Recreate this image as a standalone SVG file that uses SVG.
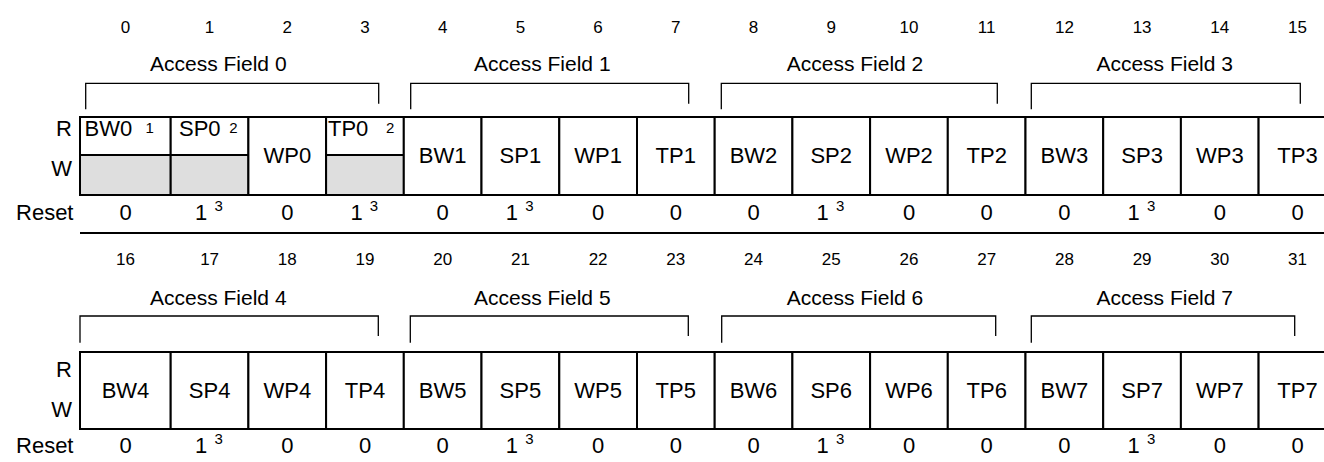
<svg xmlns="http://www.w3.org/2000/svg" width="1324" height="462" viewBox="0 0 1324 462">
<style>
text{font-family:"Liberation Sans",Arial,Helvetica,sans-serif;fill:#000}
.cell{fill:#fff;stroke:#000;stroke-width:2}
.gray{fill:#dedede;stroke:#000;stroke-width:2}
.ln{stroke:#000;stroke-width:2;fill:none}
.br{stroke:#000;stroke-width:1.3;fill:none}
.bit{font-size:17px;text-anchor:middle}
.af{font-size:21px;text-anchor:middle}
.lbl{font-size:22px;text-anchor:middle}
.lft{font-size:22px}
.rw{font-size:22px;text-anchor:end}
.sup{font-size:15px}
.val{font-size:22px;text-anchor:middle}
</style>
<rect width="1324" height="462" fill="#fff"/>

<!-- Row headers -->
<g id="hdr-top">
<text class="rw" x="72" y="136">R</text>
<text class="rw" x="72" y="176">W</text>
<text class="rw" x="73.5" y="220">Reset</text>
</g>
<g id="hdr-bottom">
<text class="rw" x="72" y="376.7">R</text>
<text class="rw" x="72" y="416.7">W</text>
<text class="rw" x="73.5" y="453">Reset</text>
</g>

<!-- Bit numbers -->
<g id="bits-top" class="bits">
<text class="bit" x="125.5" y="33">0</text>
<text class="bit" x="209.6" y="33">1</text>
<text class="bit" x="287.3" y="33">2</text>
<text class="bit" x="365.0" y="33">3</text>
<text class="bit" x="442.7" y="33">4</text>
<text class="bit" x="520.4" y="33">5</text>
<text class="bit" x="598.1" y="33">6</text>
<text class="bit" x="675.8" y="33">7</text>
<text class="bit" x="753.5" y="33">8</text>
<text class="bit" x="831.2" y="33">9</text>
<text class="bit" x="909.0" y="33">10</text>
<text class="bit" x="986.7" y="33">11</text>
<text class="bit" x="1064.4" y="33">12</text>
<text class="bit" x="1142.1" y="33">13</text>
<text class="bit" x="1219.8" y="33">14</text>
<text class="bit" x="1297.5" y="33">15</text>
</g>
<g id="bits-bottom" class="bits">
<text class="bit" x="125.5" y="265">16</text>
<text class="bit" x="209.6" y="265">17</text>
<text class="bit" x="287.3" y="265">18</text>
<text class="bit" x="365.0" y="265">19</text>
<text class="bit" x="442.7" y="265">20</text>
<text class="bit" x="520.4" y="265">21</text>
<text class="bit" x="598.1" y="265">22</text>
<text class="bit" x="675.8" y="265">23</text>
<text class="bit" x="753.5" y="265">24</text>
<text class="bit" x="831.2" y="265">25</text>
<text class="bit" x="909.0" y="265">26</text>
<text class="bit" x="986.7" y="265">27</text>
<text class="bit" x="1064.4" y="265">28</text>
<text class="bit" x="1142.1" y="265">29</text>
<text class="bit" x="1219.8" y="265">30</text>
<text class="bit" x="1297.5" y="265">31</text>
</g>

<!-- Access field labels -->
<g id="field-labels">
<text class="af" x="218.3" y="71">Access Field 0</text>
<text class="af" x="542.3" y="71">Access Field 1</text>
<text class="af" x="855" y="71">Access Field 2</text>
<text class="af" x="1164.7" y="71">Access Field 3</text>
<text class="af" x="218.3" y="305">Access Field 4</text>
<text class="af" x="542.3" y="305">Access Field 5</text>
<text class="af" x="855" y="305">Access Field 6</text>
<text class="af" x="1164.7" y="305">Access Field 7</text>
</g>

<!-- Brackets (connectors) -->
<g id="connectors">
<path class="br" d="M85.7,109.3 V83.3 H378.7 V103.7"/>
<path class="br" d="M410.7,109.3 V83.3 H688.7 V103.7"/>
<path class="br" d="M721.3,109.3 V83.3 H997.3 V103.7"/>
<path class="br" d="M1031.3,109.3 V83.3 H1300.3 V103.7"/>
<path class="br" d="M80,342.7 V316 H378.3 V336"/>
<path class="br" d="M410.3,342.7 V316 H688.3 V336"/>
<path class="br" d="M721.7,342.7 V316 H995.7 V336"/>
<path class="br" d="M1031.3,342.7 V316 H1294.7 V336"/>
</g>

<!-- Top register cells -->
<g id="bw0">
<rect class="cell" x="80" y="117" width="90.7" height="38"/>
<rect class="gray" x="80" y="155" width="90.7" height="40"/>
<text class="lft" x="84.5" y="136">BW0</text>
<text class="sup" x="145.5" y="132.5">1</text>
</g>
<g id="sp0">
<rect class="cell" x="170.7" y="117" width="77.7" height="38"/>
<rect class="gray" x="170.7" y="155" width="77.7" height="40"/>
<text class="lft" x="179" y="136">SP0</text>
<text class="sup" x="229.3" y="132.5">2</text>
</g>
<g id="wp0">
<rect class="cell" x="248.4" y="117" width="77.7" height="78"/>
<text class="lbl" x="287.3" y="163">WP0</text>
</g>
<g id="tp0">
<rect class="cell" x="326.1" y="117" width="77.7" height="38"/>
<rect class="gray" x="326.1" y="155" width="77.7" height="40"/>
<text class="lft" x="328" y="136">TP0</text>
<text class="sup" x="386" y="132.5">2</text>
</g>
<g id="bw1"><rect class="cell" x="403.8" y="117" width="77.7" height="78"/><text class="lbl" x="442.7" y="163">BW1</text></g>
<g id="sp1"><rect class="cell" x="481.5" y="117" width="77.7" height="78"/><text class="lbl" x="520.4" y="163">SP1</text></g>
<g id="wp1"><rect class="cell" x="559.3" y="117" width="77.7" height="78"/><text class="lbl" x="598.1" y="163">WP1</text></g>
<g id="tp1"><rect class="cell" x="637" y="117" width="77.7" height="78"/><text class="lbl" x="675.8" y="163">TP1</text></g>
<g id="bw2"><rect class="cell" x="714.7" y="117" width="77.7" height="78"/><text class="lbl" x="753.5" y="163">BW2</text></g>
<g id="sp2"><rect class="cell" x="792.4" y="117" width="77.7" height="78"/><text class="lbl" x="831.2" y="163">SP2</text></g>
<g id="wp2"><rect class="cell" x="870.1" y="117" width="77.7" height="78"/><text class="lbl" x="909" y="163">WP2</text></g>
<g id="tp2"><rect class="cell" x="947.8" y="117" width="77.7" height="78"/><text class="lbl" x="986.7" y="163">TP2</text></g>
<g id="bw3"><rect class="cell" x="1025.5" y="117" width="77.7" height="78"/><text class="lbl" x="1064.4" y="163">BW3</text></g>
<g id="sp3"><rect class="cell" x="1103.2" y="117" width="77.7" height="78"/><text class="lbl" x="1142.1" y="163">SP3</text></g>
<g id="wp3"><rect class="cell" x="1180.9" y="117" width="77.7" height="78"/><text class="lbl" x="1219.8" y="163">WP3</text></g>
<g id="tp3"><rect class="cell" x="1258.6" y="117" width="77.7" height="78"/><text class="lbl" x="1297.5" y="163">TP3</text></g>

<!-- Top reset values -->
<g id="reset-top">
<text class="val" x="125.5" y="220">0</text>
<text class="val" x="201.1" y="220">1</text><text class="sup" x="214.4" y="210.5">3</text>
<text class="val" x="287.3" y="220">0</text>
<text class="val" x="356.5" y="220">1</text><text class="sup" x="369.8" y="210.5">3</text>
<text class="val" x="442.7" y="220">0</text>
<text class="val" x="511.9" y="220">1</text><text class="sup" x="525.2" y="210.5">3</text>
<text class="val" x="598.1" y="220">0</text>
<text class="val" x="675.8" y="220">0</text>
<text class="val" x="753.5" y="220">0</text>
<text class="val" x="822.7" y="220">1</text><text class="sup" x="836" y="210.5">3</text>
<text class="val" x="909" y="220">0</text>
<text class="val" x="986.7" y="220">0</text>
<text class="val" x="1064.4" y="220">0</text>
<text class="val" x="1133.6" y="220">1</text><text class="sup" x="1146.9" y="210.5">3</text>
<text class="val" x="1219.8" y="220">0</text>
<text class="val" x="1297.5" y="220">0</text>
</g>
<line class="ln" x1="80" y1="233" x2="1324" y2="233"/>

<!-- Bottom register cells -->
<g id="bw4"><rect class="cell" x="80" y="352" width="90.7" height="77"/><text class="lbl" x="125.5" y="398">BW4</text></g>
<g id="sp4"><rect class="cell" x="170.7" y="352" width="77.7" height="77"/><text class="lbl" x="209.6" y="398">SP4</text></g>
<g id="wp4"><rect class="cell" x="248.4" y="352" width="77.7" height="77"/><text class="lbl" x="287.3" y="398">WP4</text></g>
<g id="tp4"><rect class="cell" x="326.1" y="352" width="77.7" height="77"/><text class="lbl" x="365" y="398">TP4</text></g>
<g id="bw5"><rect class="cell" x="403.8" y="352" width="77.7" height="77"/><text class="lbl" x="442.7" y="398">BW5</text></g>
<g id="sp5"><rect class="cell" x="481.5" y="352" width="77.7" height="77"/><text class="lbl" x="520.4" y="398">SP5</text></g>
<g id="wp5"><rect class="cell" x="559.3" y="352" width="77.7" height="77"/><text class="lbl" x="598.1" y="398">WP5</text></g>
<g id="tp5"><rect class="cell" x="637" y="352" width="77.7" height="77"/><text class="lbl" x="675.8" y="398">TP5</text></g>
<g id="bw6"><rect class="cell" x="714.7" y="352" width="77.7" height="77"/><text class="lbl" x="753.5" y="398">BW6</text></g>
<g id="sp6"><rect class="cell" x="792.4" y="352" width="77.7" height="77"/><text class="lbl" x="831.2" y="398">SP6</text></g>
<g id="wp6"><rect class="cell" x="870.1" y="352" width="77.7" height="77"/><text class="lbl" x="909" y="398">WP6</text></g>
<g id="tp6"><rect class="cell" x="947.8" y="352" width="77.7" height="77"/><text class="lbl" x="986.7" y="398">TP6</text></g>
<g id="bw7"><rect class="cell" x="1025.5" y="352" width="77.7" height="77"/><text class="lbl" x="1064.4" y="398">BW7</text></g>
<g id="sp7"><rect class="cell" x="1103.2" y="352" width="77.7" height="77"/><text class="lbl" x="1142.1" y="398">SP7</text></g>
<g id="wp7"><rect class="cell" x="1180.9" y="352" width="77.7" height="77"/><text class="lbl" x="1219.8" y="398">WP7</text></g>
<g id="tp7"><rect class="cell" x="1258.6" y="352" width="77.7" height="77"/><text class="lbl" x="1297.5" y="398">TP7</text></g>

<!-- Bottom reset values -->
<g id="reset-bottom">
<text class="val" x="125.5" y="453">0</text>
<text class="val" x="201.1" y="453">1</text><text class="sup" x="214.4" y="443.5">3</text>
<text class="val" x="287.3" y="453">0</text>
<text class="val" x="365" y="453">0</text>
<text class="val" x="442.7" y="453">0</text>
<text class="val" x="511.9" y="453">1</text><text class="sup" x="525.2" y="443.5">3</text>
<text class="val" x="598.1" y="453">0</text>
<text class="val" x="675.8" y="453">0</text>
<text class="val" x="753.5" y="453">0</text>
<text class="val" x="822.7" y="453">1</text><text class="sup" x="836" y="443.5">3</text>
<text class="val" x="909" y="453">0</text>
<text class="val" x="986.7" y="453">0</text>
<text class="val" x="1064.4" y="453">0</text>
<text class="val" x="1133.6" y="453">1</text><text class="sup" x="1146.9" y="443.5">3</text>
<text class="val" x="1219.8" y="453">0</text>
<text class="val" x="1297.5" y="453">0</text>
</g>
</svg>
